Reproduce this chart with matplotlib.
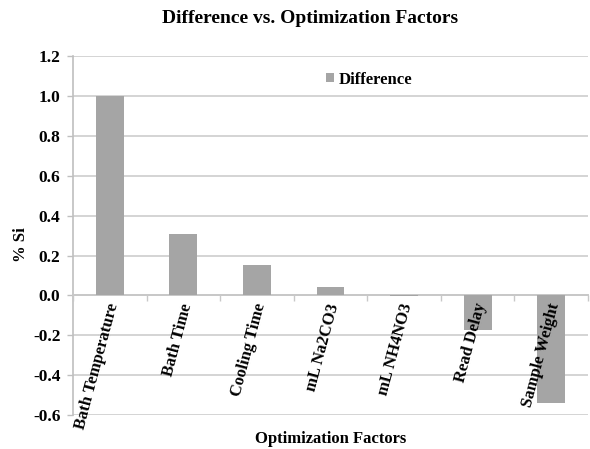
import matplotlib
matplotlib.use("Agg")
import matplotlib.pyplot as plt
import matplotlib.transforms as mtransforms
from matplotlib.patches import Patch
import numpy as np

categories = ["Bath Temperature", "Bath Time", "Cooling Time", "mL Na2CO3",
              "mL NH4NO3", "Read Delay", "Sample Weight"]
difference = [1.00, 0.31, 0.15, 0.04, -0.005, -0.175, -0.54]
yticks = [-0.6, -0.4, -0.2, 0.0, 0.2, 0.4, 0.6, 0.8, 1.0, 1.2]

plt.rcParams['font.family'] = ['Liberation Serif', 'DejaVu Serif']
plt.rcParams['font.weight'] = 'bold'

fig = plt.figure(figsize=(5.9, 4.49), dpi=100)
ax = fig.add_axes([0.1237, 0.0757, 0.873, 0.7993])

x = np.arange(len(categories))
bar_color = '#a5a5a5'
ax.bar(x, difference, width=0.38, color=bar_color, zorder=3)

ax.set_xlim(-0.5, len(categories) - 0.5)
ax.set_ylim(-0.6, 1.2)
ax.set_yticks(yticks)
ax.set_yticklabels([f"{v:.1f}" for v in yticks], fontsize=12.5, fontweight='bold')
ax.yaxis.grid(True, color='#d4d4d4', linewidth=1.4)
ax.set_axisbelow(True)

for s in ['top', 'right']:
    ax.spines[s].set_visible(False)
ax.spines['left'].set_color('#bfbfbf')
ax.spines['left'].set_linewidth(1.2)
ax.spines['bottom'].set_position(('data', 0))
ax.spines['bottom'].set_color('#c8c8c8')
ax.spines['bottom'].set_linewidth(1.4)

ax.tick_params(axis='y', length=4, width=1, color='#bfbfbf', pad=5)

ax.set_xticks(x)
ax.set_xticks(np.arange(-0.5, len(categories), 1.0), minor=True)
ax.tick_params(axis='x', which='major', length=0, pad=3)
ax.tick_params(axis='x', which='minor', length=4, width=1, color='#c8c8c8')
ax.set_xticklabels(categories, fontsize=12, fontweight='bold', rotation=75,
                   ha='right', va='center', rotation_mode='anchor')
offset = mtransforms.ScaledTranslation(4 / 100, -4 / 100, fig.dpi_scale_trans)
for lbl in ax.get_xticklabels():
    lbl.set_transform(lbl.get_transform() + offset)
ax.xaxis.set_zorder(5)

ax.set_xlabel("Optimization Factors", fontsize=12, fontweight='bold')
ax.xaxis.set_label_coords(0.5, -0.045)
ax.set_ylabel("% Si", fontsize=12, fontweight='bold')
ax.yaxis.set_label_coords(-0.085, 0.474)

fig.text(0.525, 0.958, "Difference vs. Optimization Factors", fontsize=14,
         fontweight='bold', ha='center', va='center')

leg = ax.legend(handles=[Patch(facecolor=bar_color, label="Difference")],
                loc='center', bbox_to_anchor=(0.575, 0.934), frameon=False,
                prop={'size': 12, 'weight': 'bold'},
                handlelength=0.45, handleheight=0.45, handletextpad=0.3)

fig.savefig("out.png", dpi=100)
